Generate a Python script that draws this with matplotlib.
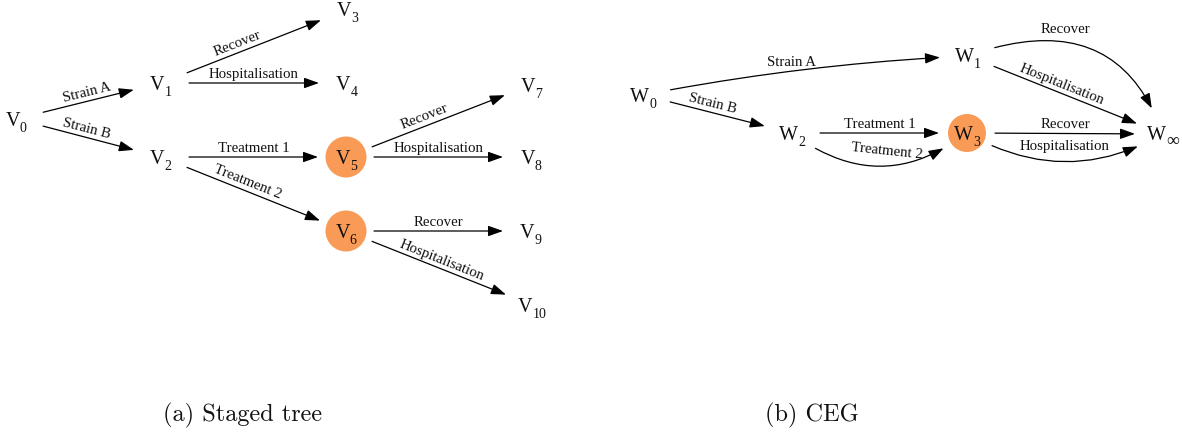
import numpy as np
import matplotlib
matplotlib.use("Agg")
import matplotlib.pyplot as plt
from matplotlib.patches import FancyArrowPatch, Circle, ArrowStyle
from matplotlib.path import Path

# ---------------- data ----------------
tree_nodes = ['v0', 'v1', 'v2', 'v3', 'v4', 'v5', 'v6', 'v7', 'v8', 'v9', 'v10']
tree_labels = [('V', n[1:]) for n in tree_nodes]
tree_edges = [
    ('v0', 'v1', 'Strain A'),
    ('v0', 'v2', 'Strain B'),
    ('v1', 'v3', 'Recover'),
    ('v1', 'v4', 'Hospitalisation'),
    ('v2', 'v5', 'Treatment 1'),
    ('v2', 'v6', 'Treatment 2'),
    ('v5', 'v7', 'Recover'),
    ('v5', 'v8', 'Hospitalisation'),
    ('v6', 'v9', 'Recover'),
    ('v6', 'v10', 'Hospitalisation'),
]
tree_stage_nodes = ['v5', 'v6']

ceg_nodes = ['w0', 'w1', 'w2', 'w3', 'winf']
ceg_labels = [('W', '0'), ('W', '1'), ('W', '2'), ('W', '3'), ('W', '\u221e')]
ceg_edges = [
    ('w0', 'w1', 'Strain A'),
    ('w0', 'w2', 'Strain B'),
    ('w1', 'winf', 'Recover'),
    ('w1', 'winf', 'Hospitalisation'),
    ('w2', 'w3', 'Treatment 1'),
    ('w2', 'w3', 'Treatment 2'),
    ('w3', 'winf', 'Recover'),
    ('w3', 'winf', 'Hospitalisation'),
]
ceg_stage_nodes = ['w3']

captions = ['(a) Staged tree', '(b) CEG']

# ---------------- layout (pixel coordinates) ----------------
pos = {
    'v0': (16, 119), 'v1': (161, 83), 'v2': (161, 157), 'v3': (347, 10),
    'v4': (347, 83), 'v5': (346, 157), 'v6': (346, 231), 'v7': (531, 85),
    'v8': (531, 157), 'v9': (531, 231), 'v10': (532, 305),
    'w0': (643, 95), 'w1': (968, 56), 'w2': (792, 133), 'w3': (967, 133),
    'winf': (1163, 134),
}
circle_r = {'v5': 20.5, 'v6': 20.5, 'w3': 19}
caption_pos = [(243, 421), (812, 421)]

# per-edge style: bow (px), skew (px), label t, label rotation override, label offset
edge_style = {
    ('v0', 'v2', 'Strain B'): dict(lt=0.45),
    ('v1', 'v3', 'Recover'): dict(lt=0.40),
    ('v2', 'v6', 'Treatment 2'): dict(lt=0.43),
    ('v5', 'v7', 'Recover'): dict(lt=0.42),
    ('w0', 'w1', 'Strain A'): dict(bow=6, lt=0.45, rot=0),
    ('w0', 'w2', 'Strain B'): dict(lt=0.43),
    ('w1', 'winf', 'Recover'): dict(bow=52, skew=12, lt=0.36, rot=0, off=9),
    ('w1', 'winf', 'Hospitalisation'): dict(lt=0.45),
    ('w2', 'w3', 'Treatment 2'): dict(bow=-33, lt=0.55, rot=-6, off=11),
    ('w3', 'winf', 'Hospitalisation'): dict(bow=-28, lt=0.5, rot=0, off=11),
}

ORANGE = '#FA9A57'
SHRINK = 28
SERIF = ['Liberation Serif', 'DejaVu Serif']
SUB_SIZE = {'\u221e': 13}

fig = plt.figure(figsize=(11.82, 4.34), dpi=100)
ax = fig.add_axes([0, 0, 1, 1])
ax.set_xlim(0, 1182)
ax.set_ylim(434, 0)
ax.set_aspect('equal')
ax.axis('off')
renderer = fig.canvas.get_renderer()


def bez(P0, C, P2, t):
    return (1 - t) ** 2 * P0 + 2 * t * (1 - t) * C + t ** 2 * P2


def bezd(P0, C, P2, t):
    return 2 * (1 - t) * (C - P0) + 2 * t * (P2 - C)


def draw_edge(a, b, label):
    st = edge_style.get((a, b, label), {})
    P0 = np.array(pos[a], float)
    P2 = np.array(pos[b], float)
    d = P2 - P0
    L = np.hypot(*d)
    du = d / L
    n = np.array([du[1], -du[0]])
    C = (P0 + P2) / 2 + st.get('skew', 0) * du + 2 * st.get('bow', 0) * n
    ts = np.linspace(0, 1, 4001)
    pts = np.array([bez(P0, C, P2, t) for t in ts])
    dA = np.hypot(*(pts - P0).T)
    dB = np.hypot(*(pts - P2).T)
    t0 = ts[np.argmax(dA >= SHRINK)]
    t1 = ts[len(ts) - 1 - np.argmax(dB[::-1] >= SHRINK)]
    Q0 = bez(P0, C, P2, t0)
    Q2 = bez(P0, C, P2, t1)
    Qc = Q0 + (t1 - t0) / 2 * bezd(P0, C, P2, t0)
    path = Path([Q0, Qc, Q2], [Path.MOVETO, Path.CURVE3, Path.CURVE3])
    arr = FancyArrowPatch(path=path,
                          arrowstyle=ArrowStyle('-|>', head_length=0.9, head_width=0.32),
                          mutation_scale=10, lw=0.9, color='black', zorder=2)
    ax.add_patch(arr)
    lt = st.get('lt', 0.5)
    P = bez(Q0, Qc, Q2, lt)
    T = bezd(Q0, Qc, Q2, lt)
    rot = st.get('rot', -np.degrees(np.arctan2(T[1], T[0])))
    th = np.radians(rot)
    up = np.array([-np.sin(th), -np.cos(th)])
    off = st.get('off', 5)
    Lp = P + off * up
    ax.text(Lp[0], Lp[1], label, ha='center', va='baseline', rotation=rot,
            rotation_mode='anchor', fontsize=10.7, family=SERIF,
            color='#111111', zorder=3)


def draw_nodes(nodes, labels, stages):
    for nd, (main, sub) in zip(nodes, labels):
        x, y = pos[nd]
        if nd in stages:
            ax.add_patch(Circle((x, y), circle_r[nd], color=ORANGE, lw=0, zorder=1))
        t_main = ax.text(0, 0, main, ha='left', va='baseline', fontsize=14.5,
                         family=SERIF, color='#111111', zorder=3)
        t_sub = ax.text(0, 0, sub, ha='left', va='baseline',
                        fontsize=SUB_SIZE.get(sub, 10),
                        family=SERIF, color='#111111', zorder=3)
        w1 = t_main.get_window_extent(renderer).width
        w2 = t_sub.get_window_extent(renderer).width
        x0 = x - (w1 + w2) / 2
        base = y + 6.5
        t_main.set_position((x0, base))
        t_sub.set_position((x0 + w1, base + 6))


for a, b, lab in tree_edges:
    draw_edge(a, b, lab)
for a, b, lab in ceg_edges:
    draw_edge(a, b, lab)
draw_nodes(tree_nodes, tree_labels, tree_stage_nodes)
draw_nodes(ceg_nodes, ceg_labels, ceg_stage_nodes)

for (cx, cy), cap in zip(caption_pos, captions):
    ax.text(cx, cy, cap, ha='center', va='baseline', fontsize=17.5,
            family='cmr10', color='#111111')

fig.savefig('out.png', dpi=100)
